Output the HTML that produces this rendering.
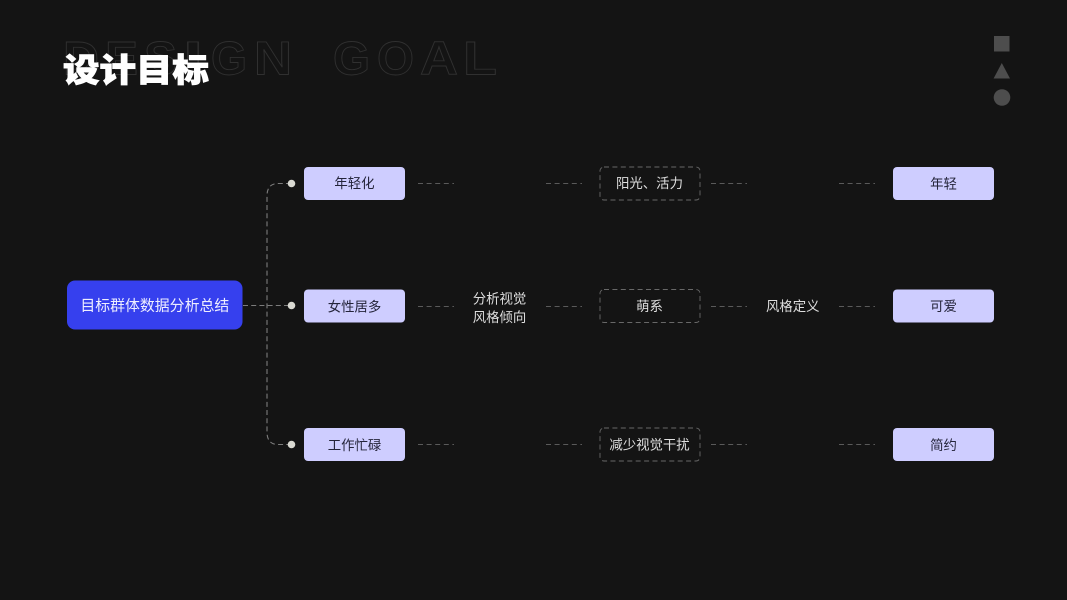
<!DOCTYPE html>
<html lang="zh">
<head>
<meta charset="utf-8">
<title>设计目标</title>
<style>
html,body{margin:0;padding:0;background:#141414;width:1067px;height:600px;overflow:hidden}
svg{display:block}
text{font-family:"Liberation Sans","Noto Sans CJK SC",sans-serif}
.o{font-family:"Liberation Sans",sans-serif;font-weight:700;font-size:47px;fill:none;stroke:#303030;stroke-width:.9}
.t{font-size:13.4px;text-anchor:middle;fill:#dedede}
.d{fill:#24243a}
.l{stroke:#5a5a5a;stroke-width:1;stroke-dasharray:5 3.6;fill:none}
.c{stroke:#7c7c7c;stroke-width:1.1;stroke-dasharray:5 3.2;fill:none}
.b{fill:none;stroke:#686868;stroke-width:.9;stroke-dasharray:5 3.4}
</style>
</head>
<body>
<svg width="1067" height="600" viewBox="0 0 1067 600" xmlns="http://www.w3.org/2000/svg">
<rect width="1067" height="600" fill="#141414"/>

<g>
<text class="o" x="63" y="74.500" textLength="36" lengthAdjust="spacingAndGlyphs">D</text>
<text class="o" x="105" y="74.500" textLength="33" lengthAdjust="spacingAndGlyphs">E</text>
<text class="o" x="144" y="74.500" textLength="33" lengthAdjust="spacingAndGlyphs">S</text>
<text class="o" x="183" y="74.500" textLength="20" lengthAdjust="spacingAndGlyphs">I</text>
<text class="o" x="211" y="74.500" textLength="36" lengthAdjust="spacingAndGlyphs">G</text>
<text class="o" x="254" y="74.500" textLength="38" lengthAdjust="spacingAndGlyphs">N</text>
<text class="o" x="333" y="74.500" textLength="37" lengthAdjust="spacingAndGlyphs">G</text>
<text class="o" x="377" y="74.500" textLength="37" lengthAdjust="spacingAndGlyphs">O</text>
<text class="o" x="420" y="74.500" textLength="38" lengthAdjust="spacingAndGlyphs">A</text>
<text class="o" x="463" y="74.500" textLength="34" lengthAdjust="spacingAndGlyphs">L</text>
</g>
<text transform="translate(63,81.500) scale(1,.88)" font-size="36.500" font-weight="900" fill="#fff" stroke="#fff" stroke-width="1">设计目标</text>

<rect x="994" y="36" width="15.500" height="15.500" fill="#4d4d4d"/>
<polygon points="1001.800,63 1010,78.500 993.600,78.500" fill="#4d4d4d"/>
<circle cx="1002" cy="97.500" r="8.300" fill="#4d4d4d"/>

<path class="c" d="M243 305.500H291"/>
<path class="c" d="M291 183.500H278Q267 183.500 267 196V432Q267 444.500 278 444.500H291"/>
<circle cx="291.500" cy="183.500" r="3.800" fill="#d9d9d2"/>
<circle cx="291.500" cy="305.500" r="3.800" fill="#d9d9d2"/>
<circle cx="291.500" cy="444.500" r="3.800" fill="#d9d9d2"/>

<rect x="67" y="280.500" width="175.500" height="49" rx="8" fill="#3640ee"/>
<text x="154.800" y="310.700" font-size="14.900" text-anchor="middle" fill="#eeeeff">目标群体数据分析总结</text>

<g fill="#cecdff">
<rect x="304" y="167" width="101" height="33" rx="4"/>
<rect x="304" y="289.500" width="101" height="33" rx="4"/>
<rect x="304" y="428" width="101" height="33" rx="4"/>
<rect x="893" y="167" width="101" height="33" rx="4"/>
<rect x="893" y="289.500" width="101" height="33" rx="4"/>
<rect x="893" y="428" width="101" height="33" rx="4"/>
</g>
<text class="t d" x="354.500" y="188">年轻化</text>
<text class="t d" x="354.500" y="311.500">女性居多</text>
<text class="t d" x="354.500" y="450">工作忙碌</text>
<text class="t d" x="943.500" y="188.500">年轻</text>
<text class="t d" x="943.500" y="311">可爱</text>
<text class="t d" x="943.500" y="450">简约</text>

<rect class="b" x="600" y="167" width="100" height="33" rx="4"/>
<rect class="b" x="600" y="289.500" width="100" height="33" rx="4"/>
<rect class="b" x="600" y="428" width="100" height="33" rx="4"/>
<text class="t" x="649.500" y="188">阳光、活力</text>
<text class="t" x="649.500" y="311">萌系</text>
<text class="t" x="649.500" y="449.500">减少视觉干扰</text>

<text class="t" x="499.500" y="303.500">分析视觉</text>
<text class="t" x="499.500" y="322">风格倾向</text>
<text class="t" x="792.800" y="311">风格定义</text>

<path class="l" d="M418 183.500H454M546 183.500H582M711 183.500H747M839 183.500H875"/>
<path class="l" d="M418 306.500H454M546 306.500H582M711 306.500H747M839 306.500H875"/>
<path class="l" d="M418 444.500H454M546 444.500H582M711 444.500H747M839 444.500H875"/>
</svg>
</body>
</html>
